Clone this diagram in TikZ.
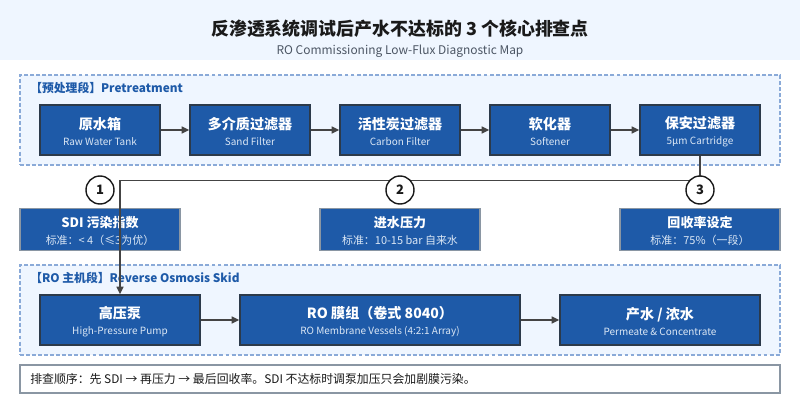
\documentclass[tikz,border=0pt]{standalone}
\usepackage{fontspec}
\setmainfont{Noto Sans CJK SC}
\definecolor{skidblue}{RGB}{30, 90, 168}
\definecolor{paleblue}{RGB}{239, 246, 255}
\definecolor{dashblue}{RGB}{138, 170, 216}
\definecolor{edgedark}{RGB}{44, 58, 74}
\definecolor{edgegray}{RGB}{138, 150, 163}
\definecolor{linedark}{RGB}{68, 68, 68}
\definecolor{sublight}{RGB}{219, 231, 245}
\definecolor{inkdark}{RGB}{26, 26, 26}
\definecolor{inkgray}{RGB}{75, 85, 99}
\usetikzlibrary{arrows.meta}
\tikzset{
  groupbox/.style={draw=dashblue, fill=paleblue, line width=1pt, dash pattern=on 2.8pt off 1.5pt},
  grouplabel/.style={anchor=west, text=skidblue, inner sep=0pt, font=\fontsize{8.4}{10}\selectfont\bfseries},
  unitbox/.style={draw=edgedark, fill=skidblue, line width=1pt, minimum height=1.25cm, inner sep=0pt, text=white, align=center},
  infobox/.style={draw=edgegray, fill=skidblue, line width=0.85pt, minimum width=4cm, minimum height=1.05cm, inner sep=0pt, text=white, align=center},
  flowline/.style={-{Stealth[length=5.5pt, width=5pt, inset=0pt]}, draw=linedark, line width=1pt},
  checkmark/.style={circle, draw=inkdark, fill=white, line width=1pt, minimum size=0.7cm, inner sep=0pt, text=inkdark, font=\fontsize{9.25}{10}\selectfont\bfseries}
}
\newcommand{\unittext}[2]{{\fontsize{10}{13.5}\selectfont\bfseries\rule{0pt}{11pt}#1}\\[-0.5pt]{\fontsize{7.1}{9}\selectfont\color{sublight} #2}}
\newcommand{\infotext}[2]{{\fontsize{9.25}{12}\selectfont\bfseries\rule{0pt}{10.5pt}#1}\\[0.4pt]{\fontsize{7.8}{9}\selectfont\color{sublight} #2}}
\begin{document}
\begin{tikzpicture}
  \useasboundingbox (0, 0) rectangle (20, -10);

  % ===== Header =====
  \fill[paleblue] (0, 0) rectangle (20, -1.5);
  \node[text=inkdark, font=\fontsize{12.75}{15}\selectfont\bfseries] (title) at (10, -0.73) {反渗透系统调试后产水不达标的 3 个核心排查点};
  \node[text=inkgray, font=\fontsize{8.5}{10}\selectfont] (subtitle) at (10, -1.28) {RO Commissioning Low-Flux Diagnostic Map};

  % ===== Pretreatment =====
  \node[groupbox, minimum width=19cm, minimum height=2.25cm] (pregroup) at (10, -3.0) {};
  \node[grouplabel] (prelabel) at (0.75, -2.19) {【预处理段】Pretreatment};

  \node[unitbox, minimum width=3cm] (tank) at (2.5, -3.25) {\unittext{原水箱}{Raw Water Tank}};
  \node[unitbox, minimum width=3cm] (sand) at (6.25, -3.25) {\unittext{多介质过滤器}{Sand Filter}};
  \node[unitbox, minimum width=3cm] (carbon) at (10, -3.25) {\unittext{活性炭过滤器}{Carbon Filter}};
  \node[unitbox, minimum width=3cm] (soft) at (13.75, -3.25) {\unittext{软化器}{Softener}};
  \node[unitbox, minimum width=3cm] (cart) at (17.5, -3.25) {\unittext{保安过滤器}{5μm Cartridge}};

  \draw[flowline] (tank) -- (sand);
  \draw[flowline] (sand) -- (carbon);
  \draw[flowline] (carbon) -- (soft);
  \draw[flowline] (soft) -- (cart);

  % ===== Check items =====
  \node[infobox] (sdi) at (2.5, -5.73) {\infotext{SDI 污染指数}{标准：< 4（≤3为优）}};
  \node[infobox] (press) at (10, -5.73) {\infotext{进水压力}{标准：10-15 bar 自来水}};
  \node[infobox] (recov) at (17.5, -5.73) {\infotext{回收率设定}{标准：75\%（一段）}};

  % ===== RO skid =====
  \node[groupbox, minimum width=19cm, minimum height=2.25cm] (rogroup) at (10, -7.75) {};
  \node[grouplabel] (rolabel) at (0.75, -6.94) {【RO 主机段】Reverse Osmosis Skid};

  \node[unitbox, minimum width=4cm] (pump) at (3, -8) {\unittext{高压泵}{High-Pressure Pump}};
  \node[unitbox, minimum width=7cm] (vessel) at (9.5, -8) {\unittext{RO 膜组（卷式 8040）}{RO Membrane Vessels (4:2:1 Array)}};
  \node[unitbox, minimum width=5cm] (perm) at (16.5, -8) {\unittext{产水 / 浓水}{Permeate \& Concentrate}};

  \draw[flowline] (pump) -- (vessel);
  \draw[flowline] (vessel) -- (perm);

  % Link from cartridge down to pump
  \draw[flowline] (cart.south) -- ++(0, -0.625) -| (pump.north);

  % Numbered marks
  \node[checkmark] (mark1) at (2.5, -4.75) {1};
  \node[checkmark] (mark2) at (10, -4.75) {2};
  \node[checkmark] (mark3) at (17.5, -4.75) {3};

  % ===== Note =====
  \node[draw=edgegray, fill=white, line width=1pt, minimum width=19cm, minimum height=0.7cm] (notebox) at (10, -9.475) {};
  \node[anchor=west, inner sep=0pt, text=inkdark, font=\fontsize{8.45}{10}\selectfont] (notetext) at (0.75, -9.475) {排查顺序：先 SDI → 再压力 → 最后回收率。SDI 不达标时调泵加压只会加剧膜污染。};
\end{tikzpicture}
\end{document}
